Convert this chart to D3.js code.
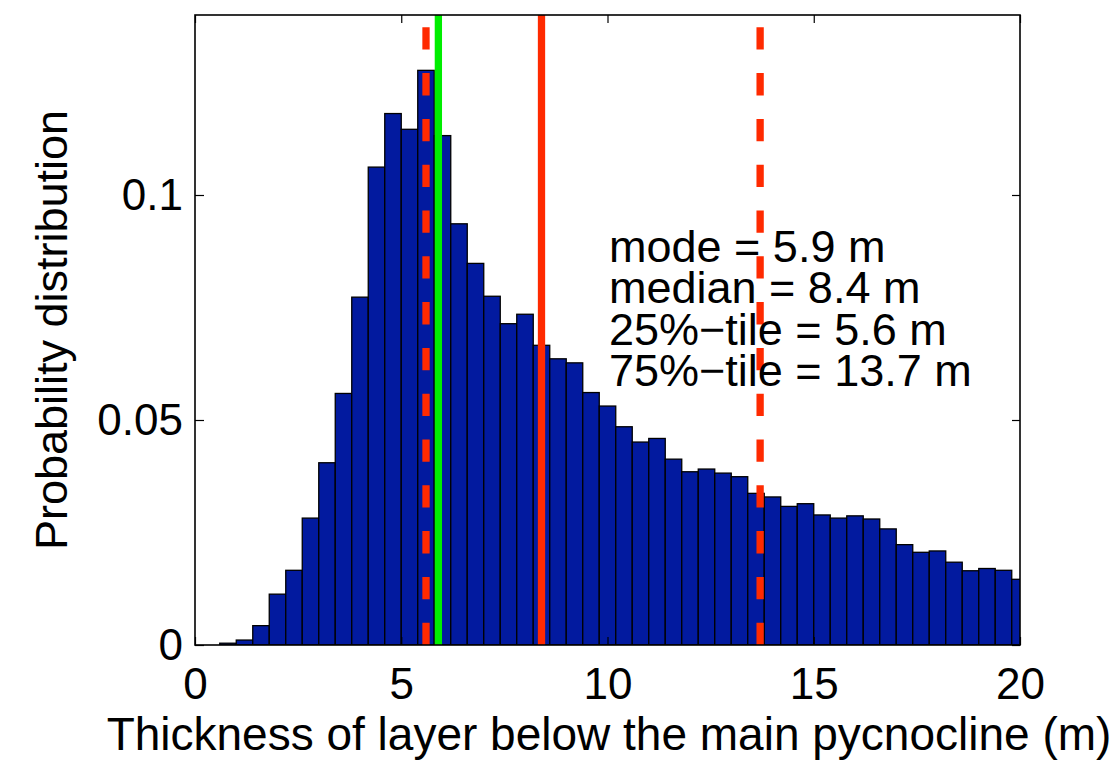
<!DOCTYPE html>
<html>
<head>
<meta charset="utf-8">
<script src="https://cdn.jsdelivr.net/npm/d3@7"></script>
<style>
  html, body { margin: 0; padding: 0; background: #fff; }
  svg { display: block; font-family: "Liberation Sans", Arial, Helvetica, sans-serif; }
</style>
</head>
<body>
<svg id="chart" width="1118" height="762"></svg>
<script>
// Histogram bin centres (m), bin width 0.4 m
const binCenters = [
  0.0, 0.4, 0.8, 1.2, 1.6, 2.0, 2.4, 2.8, 3.2, 3.6,
  4.0, 4.4, 4.8, 5.2, 5.6, 6.0, 6.4, 6.8, 7.2, 7.6,
  8.0, 8.4, 8.8, 9.2, 9.6, 10.0, 10.4, 10.8, 11.2, 11.6,
  12.0, 12.4, 12.8, 13.2, 13.6, 14.0, 14.4, 14.8, 15.2, 15.6,
  16.0, 16.4, 16.8, 17.2, 17.6, 18.0, 18.4, 18.8, 19.2, 19.6,
  20.0
];
const binWidth = 0.4;

// Probability per bin
const probability = [
  0.0000, 0.0000, 0.0004, 0.0011, 0.0043, 0.0113, 0.0166, 0.0282, 0.0405, 0.0559,
  0.0773, 0.1062, 0.1181, 0.1146, 0.1277, 0.1132, 0.0936, 0.0848, 0.0775, 0.0714,
  0.0735, 0.0666, 0.0636, 0.0627, 0.0561, 0.0531, 0.0485, 0.0451, 0.0459, 0.0413,
  0.0385, 0.0391, 0.0382, 0.0374, 0.0337, 0.0329, 0.0308, 0.0314, 0.0289, 0.0282,
  0.0287, 0.0280, 0.0258, 0.0223, 0.0206, 0.0209, 0.0184, 0.0165, 0.0170, 0.0166,
  0.0146
];

// Summary statistics (m)
const statNames  = ["mode", "median", "25%\u2212tile", "75%\u2212tile"];
const statValues = [5.9, 8.4, 5.6, 13.7];
const statColors = ["#00ee00", "#ff2a00", "#ff2a00", "#ff2a00"];
const statDashed = [false, false, true, true];

const xTicks = [0, 5, 10, 15, 20];
const yTicks = [0, 0.05, 0.1];
const xDomain = [0, 20];
const yDomain = [0, 0.14];

const xLabel = "Thickness of layer below the main pycnocline (m)";
const yLabel = "Probability distribution";

const svg = d3.select("#chart");
const plotLeft = 195, plotRight = 1020, plotTop = 15, plotBottom = 645;

const x = d3.scaleLinear().domain(xDomain).range([plotLeft, plotRight]);
const y = d3.scaleLinear().domain(yDomain).range([plotBottom, plotTop]);

svg.append("defs").append("clipPath").attr("id", "plot-clip")
  .append("rect")
  .attr("x", plotLeft).attr("y", plotTop)
  .attr("width", plotRight - plotLeft).attr("height", plotBottom - plotTop);

const plot = svg.append("g").attr("clip-path", "url(#plot-clip)");

// Bars
const bins = binCenters.map((c, i) => ({ c, v: probability[i] }));
plot.selectAll("rect.bar")
  .data(bins.filter(d => d.v > 0))
  .join("rect")
  .attr("class", "bar")
  .attr("x", d => x(d.c - binWidth / 2))
  .attr("width", d => x(d.c + binWidth / 2) - x(d.c - binWidth / 2))
  .attr("y", d => y(d.v))
  .attr("height", d => y(0) - y(d.v))
  .attr("fill", "#021a9f")
  .attr("stroke", "#000")
  .attr("stroke-width", 1.3);

// Vertical statistic lines, drawn from the baseline upward
const drawOrder = [2, 0, 1, 3];
drawOrder.forEach(i => {
  plot.append("line")
    .attr("x1", x(statValues[i])).attr("x2", x(statValues[i]))
    .attr("y1", y(yDomain[0])).attr("y2", y(yDomain[1]))
    .attr("stroke", statColors[i])
    .attr("stroke-width", 7.3)
    .attr("stroke-dasharray", statDashed[i] ? "22.3 23.5" : null);
});

// Axes with inward ticks
const axisFont = 44;
const gx = svg.append("g").attr("transform", `translate(0,${plotBottom})`)
  .call(d3.axisBottom(x).tickValues(xTicks).tickFormat(d3.format("d"))
    .tickSizeInner(-8).tickSizeOuter(0).tickPadding(23));
const gxTop = svg.append("g").attr("transform", `translate(0,${plotTop})`)
  .call(d3.axisTop(x).tickValues(xTicks).tickFormat("")
    .tickSizeInner(-8).tickSizeOuter(0));
const gy = svg.append("g").attr("transform", `translate(${plotLeft},0)`)
  .call(d3.axisLeft(y).tickValues(yTicks).tickFormat(d => d === 0 ? "0" : String(d))
    .tickSizeInner(-9).tickSizeOuter(0).tickPadding(12));
const gyRight = svg.append("g").attr("transform", `translate(${plotRight},0)`)
  .call(d3.axisRight(y).tickValues(yTicks).tickFormat("")
    .tickSizeInner(-8).tickSizeOuter(0));

[gx, gxTop, gy, gyRight].forEach(g => {
  g.select(".domain").remove();
  g.selectAll(".tick line").attr("stroke", "#000").attr("stroke-width", 1.2);
  g.selectAll(".tick text")
    .attr("fill", "#000")
    .style("font-size", axisFont + "px")
    .style("font-family", "'Liberation Sans', Arial, sans-serif");
});

// Frame
svg.append("rect")
  .attr("x", plotLeft).attr("y", plotTop)
  .attr("width", plotRight - plotLeft).attr("height", plotBottom - plotTop)
  .attr("fill", "none").attr("stroke", "#000").attr("stroke-width", 1.6);

// Axis titles
svg.append("text")
  .attr("x", 609).attr("y", 750)
  .attr("text-anchor", "middle")
  .style("font-size", "46px")
  .text(xLabel);

svg.append("text")
  .attr("transform", `translate(67,${(plotTop + plotBottom) / 2}) rotate(-90)`)
  .attr("text-anchor", "middle")
  .style("font-size", "45px")
  .text(yLabel);

// Statistics annotation
const note = svg.append("g");
statNames.forEach((name, i) => {
  note.append("text")
    .attr("x", 609)
    .attr("y", 262 + i * 41.3)
    .style("font-size", "45px")
    .text(`${name} = ${statValues[i].toFixed(1)} m`);
});
</script>
</body>
</html>
